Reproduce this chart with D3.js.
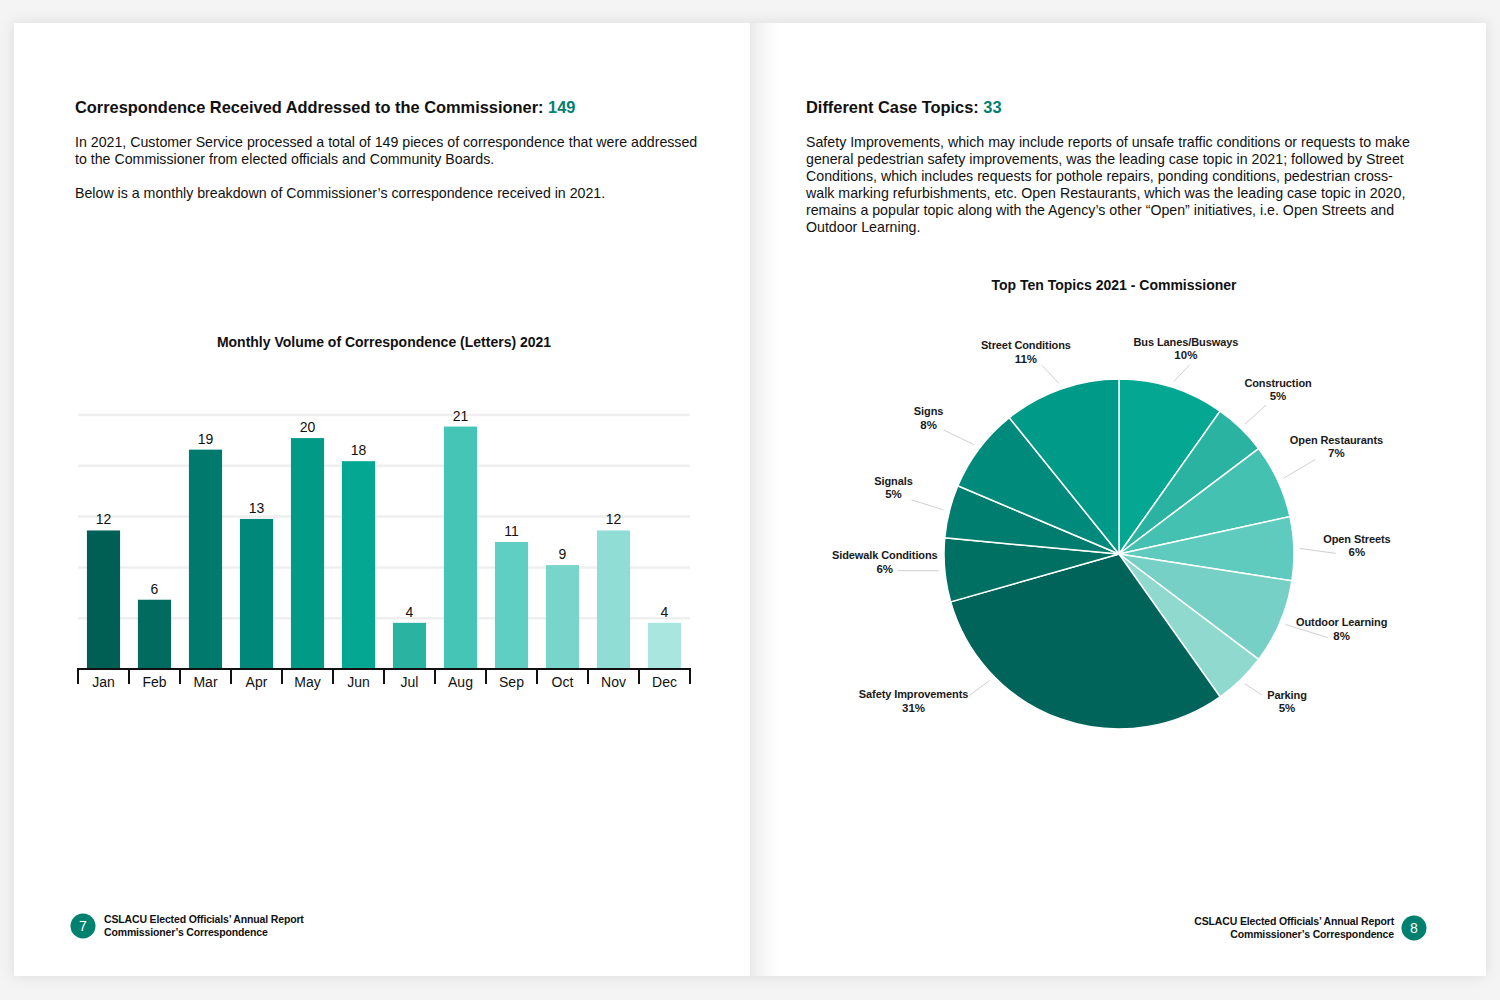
<!DOCTYPE html>
<html>
<head>
<meta charset="utf-8">
<script src="https://cdn.jsdelivr.net/npm/d3@7"></script>
<style>
  body { margin: 0; background: #f4f4f4; }
  svg { display: block; font-family: "Liberation Sans", Arial, sans-serif; }
</style>
</head>
<body>
<script>
const months = ["Jan", "Feb", "Mar", "Apr", "May", "Jun", "Jul", "Aug", "Sep", "Oct", "Nov", "Dec"];
const letters = [12, 6, 19, 13, 20, 18, 4, 21, 11, 9, 12, 4];
const barColors = ["#005f55", "#006b5e", "#007a6c", "#00897a", "#009a87", "#04a791",
                   "#2bb3a2", "#45c5b6", "#5fcfc3", "#77d5ca", "#8fddd4", "#a8e6df"];

const topics = ["Bus Lanes/Busways", "Construction", "Open Restaurants", "Open Streets", "Outdoor Learning",
                "Parking", "Safety Improvements", "Sidewalk Conditions", "Signals", "Signs", "Street Conditions"];
const topicShares = [10, 5, 7, 6, 8, 5, 31, 6, 5, 8, 11];
const topicColors = ["#04a791", "#2bb3a2", "#45c1b2", "#5fcbbf", "#77d0c5", "#8fd9cf",
                     "#00645a", "#007063", "#007d6f", "#008a7b", "#009a88"];

const leftTitle = "Correspondence Received Addressed to the Commissioner: ";
const leftTotal = "149";
const leftText = [
  ["In 2021, Customer Service processed a total of 149 pieces of correspondence that were addressed",
   "to the Commissioner from elected officials and Community Boards."],
  ["Below is a monthly breakdown of Commissioner\u2019s correspondence received in 2021."]
];
const rightTitle = "Different Case Topics: ";
const rightTotal = "33";
const rightText = [
  "Safety Improvements, which may include reports of unsafe traffic conditions or requests to make",
  "general pedestrian safety improvements, was the leading case topic in 2021; followed by Street",
  "Conditions, which includes requests for pothole repairs, ponding conditions, pedestrian cross-",
  "walk marking refurbishments, etc. Open Restaurants, which was the leading case topic in 2020,",
  "remains a popular topic along with the Agency\u2019s other \u201cOpen\u201d initiatives, i.e. Open Streets and",
  "Outdoor Learning."
];
const footerLines = ["CSLACU Elected Officials\u2019 Annual Report", "Commissioner\u2019s Correspondence"];

const teal = "#00806e";

const svg = d3.select("body").append("svg")
  .attr("width", 1500)
  .attr("height", 1000);

const defs = svg.append("defs");
defs.append("filter").attr("id", "shadow").attr("x", "-5%").attr("y", "-5%").attr("width", "110%").attr("height", "110%")
  .append("feDropShadow").attr("dx", 0).attr("dy", 0).attr("stdDeviation", 7)
  .attr("flood-color", "#000").attr("flood-opacity", 0.10);
const spine = defs.append("linearGradient").attr("id", "spine");
spine.append("stop").attr("offset", "0%").attr("stop-color", "#e9e9e9");
spine.append("stop").attr("offset", "100%").attr("stop-color", "#ffffff").attr("stop-opacity", 0);

// pages
svg.append("rect").attr("x", 14).attr("y", 23).attr("width", 1472).attr("height", 953)
  .attr("fill", "#fff").attr("filter", "url(#shadow)");
svg.append("rect").attr("x", 750).attr("y", 23).attr("width", 36).attr("height", 953)
  .attr("fill", "url(#spine)");

// headings + paragraphs
function heading(x, label, total) {
  const t = svg.append("text").attr("x", x).attr("y", 113)
    .attr("font-size", 16.4).attr("font-weight", "bold").attr("fill", "#111");
  t.append("tspan").text(label);
  t.append("tspan").attr("fill", teal).text(total);
}
heading(75, leftTitle, leftTotal);
heading(806, rightTitle, rightTotal);

function paragraph(x, y, lines) {
  svg.append("g").selectAll("text").data(lines).join("text")
    .attr("x", x).attr("y", (d, i) => y + i * 17)
    .attr("font-size", 14.2).attr("fill", "#111")
    .text(d => d);
}
paragraph(75, 147, leftText[0]);
paragraph(75, 198, leftText[1]);
paragraph(806, 147, rightText);

// ---------- bar chart ----------
const bx = d3.scaleBand().domain(months).range([78, 690]).paddingInner(0.35).paddingOuter(0.175);
const by = d3.scaleLinear().domain([0, 22]).range([669, 415]);

svg.append("text").attr("x", 384).attr("y", 347).attr("text-anchor", "middle")
  .attr("font-size", 14).attr("font-weight", "bold").attr("fill", "#111")
  .text("Monthly Volume of Correspondence (Letters) 2021");

const grid = d3.range(1, 6).map(i => 22 * i / 5);
svg.append("g").selectAll("line").data(grid).join("line")
  .attr("x1", 78).attr("x2", 690)
  .attr("y1", d => by(d)).attr("y2", d => by(d))
  .attr("stroke", "#efefef").attr("stroke-width", 2.5);

const bars = svg.append("g");
bars.selectAll("rect").data(letters).join("rect")
  .attr("x", (d, i) => bx(months[i]))
  .attr("y", d => by(d))
  .attr("width", bx.bandwidth())
  .attr("height", d => by(0) - by(d))
  .attr("fill", (d, i) => barColors[i]);

bars.selectAll("text").data(letters).join("text")
  .attr("x", (d, i) => bx(months[i]) + bx.bandwidth() / 2)
  .attr("y", d => by(d) - 6)
  .attr("text-anchor", "middle").attr("font-size", 14).attr("fill", "#111")
  .text(d => d);

// axis: band boundaries as ticks
const bAxis = svg.append("g").attr("transform", "translate(0,669)");
const bounds = d3.range(months.length + 1).map(i => 78 + i * bx.step());
bAxis.append("line").attr("x1", 77).attr("x2", 691).attr("stroke", "#111").attr("stroke-width", 2);
bAxis.selectAll("line.tk").data(bounds).join("line").attr("class", "tk")
  .attr("x1", d => d).attr("x2", d => d).attr("y1", 0).attr("y2", 15)
  .attr("stroke", "#111").attr("stroke-width", 2);
bAxis.selectAll("text").data(months).join("text")
  .attr("x", d => bx(d) + bx.bandwidth() / 2).attr("y", 18)
  .attr("text-anchor", "middle").attr("font-size", 14).attr("fill", "#111")
  .text(d => d);

// ---------- pie chart ----------
const cx = 1119, cy = 554, r = 175;
svg.append("text").attr("x", 1114).attr("y", 290).attr("text-anchor", "middle")
  .attr("font-size", 14).attr("font-weight", "bold").attr("fill", "#111")
  .text("Top Ten Topics 2021 - Commissioner");

const pie = d3.pie().sort(null).value(d => d);
const arcs = pie(topicShares);
const arc = d3.arc().innerRadius(0).outerRadius(r);
const pg = svg.append("g").attr("transform", `translate(${cx},${cy})`);
pg.selectAll("path").data(arcs).join("path")
  .attr("d", arc)
  .attr("fill", (d, i) => topicColors[i])
  .attr("stroke", "#fff").attr("stroke-width", 1.5);

// leader layout: [leader dx, leader dy, text dx, text dy, position along slice]
const labelLayout = {
  "Bus Lanes/Busways": [16, -17, -4, -16.5],
  "Construction": [21, -19, 12, -16],
  "Open Restaurants": [32, -19, 21, -13],
  "Open Streets": [36, 5, 21, -8],
  "Outdoor Learning": [42, 13, 14, -9],
  "Parking": [17, 11, 25, 6.5],
  "Safety Improvements": [-20, 15, -56, 5.5, 0.74],
  "Sidewalk Conditions": [-41, 0, -13, -9],
  "Signals": [-32, -10, -18, -12.5],
  "Signs": [-31, -15, -15, -12],
  "Street Conditions": [-17, -18, -16, -13.5]
};
const polar = (a, rad) => [Math.sin(a) * rad, -Math.cos(a) * rad];

const lab = pg.append("g").selectAll("g").data(arcs).join("g");
lab.each(function(d, i) {
  const [lx, ly, dx, dy, at = 0.5] = labelLayout[topics[i]];
  const a = d.startAngle + (d.endAngle - d.startAngle) * at;
  const p0 = polar(a, r + 6), p1 = [p0[0] + lx, p0[1] + ly];
  const g = d3.select(this);
  g.append("line").attr("x1", p0[0]).attr("y1", p0[1]).attr("x2", p1[0]).attr("y2", p1[1])
    .attr("stroke", "#cfcfcf").attr("stroke-width", 1);
  const tx = p1[0] + dx, ty = p1[1] + dy;
  g.append("text").attr("x", tx).attr("y", ty - 2.5).attr("text-anchor", "middle")
    .attr("font-size", 11).attr("font-weight", "bold").attr("fill", "#1a1a1a")
    .attr("letter-spacing", -0.1)
    .text(topics[i]);
  g.append("text").attr("x", tx).attr("y", ty + 11).attr("text-anchor", "middle")
    .attr("font-size", 11.5).attr("font-weight", "bold").attr("fill", "#1a1a1a")
    .text(topicShares[i] + "%");
});

// ---------- footers ----------
function footer(circleX, textX, anchor, num, y) {
  svg.append("circle").attr("cx", circleX).attr("cy", y).attr("r", 12.5).attr("fill", teal);
  svg.append("text").attr("x", circleX).attr("y", y + 5).attr("text-anchor", "middle")
    .attr("font-size", 14).attr("fill", "#fff").text(num);
  svg.append("g").selectAll("text").data(footerLines).join("text")
    .attr("x", textX).attr("y", (d, i) => y - 3.5 + i * 13)
    .attr("text-anchor", anchor)
    .attr("font-size", 10.5).attr("font-weight", "bold").attr("letter-spacing", -0.15)
    .attr("fill", "#111")
    .text(d => d);
}
footer(83, 104, "start", "7", 926);
footer(1414, 1394, "end", "8", 928);
</script>
</body>
</html>
